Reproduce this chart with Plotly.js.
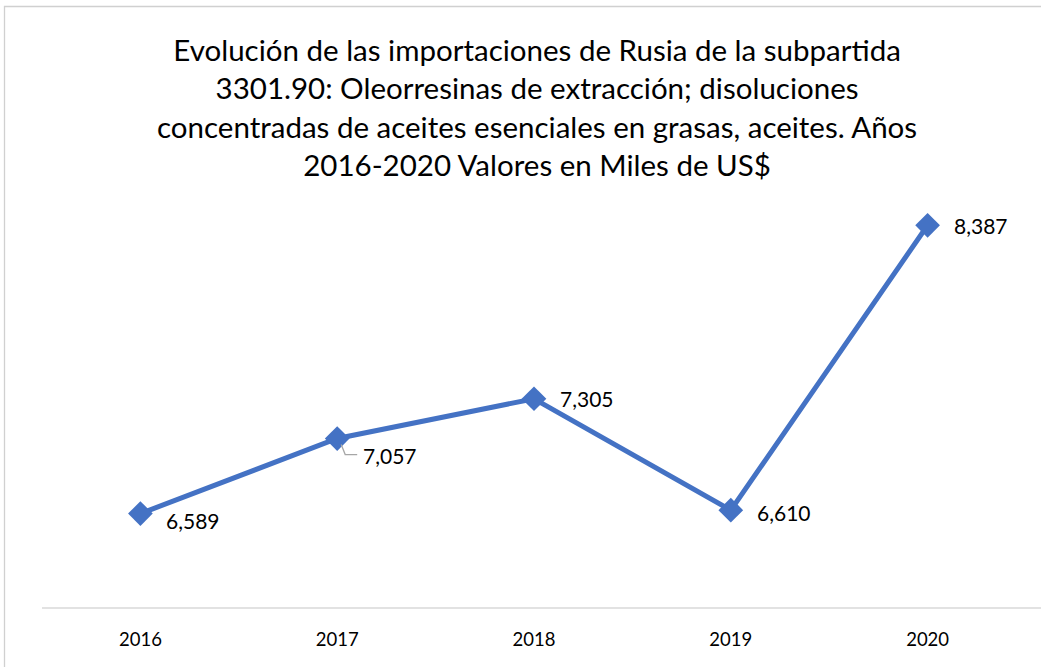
<!DOCTYPE html>
<html>
<head>
<meta charset="utf-8">
<script src="https://cdn.plot.ly/plotly-3.0.1.min.js"></script>
<style>html,body{margin:0;padding:0;background:#fff;}#chart{width:1041px;height:667px;}</style>
</head>
<body>
<div id="chart"></div>
<script>
const years = ["2016", "2017", "2018", "2019", "2020"];
const values = [6589, 7057, 7305, 6610, 8387];
const labels = ["6,589", "7,057", "7,305", "6,610", "8,387"];
const labelShiftY = [-7, -17, 0, -2, 0];
const titleText = "Evolución de las importaciones de Rusia de la subpartida<br>3301.90: Oleorresinas de extracción; disoluciones<br>concentradas de aceites esenciales en grasas, aceites. Años<br>2016-2020 Valores en Miles de US$";

const FONT = "Lato, 'Open Sans', sans-serif";
const W = 1041, H = 667, ML = 42, MR = 15, MT = 127, MB = 59;
const pw = W - ML - MR, ph = H - MT - MB;

const trace = {
  x: years.map((_, i) => i),
  y: values,
  mode: "lines+markers",
  line: {color: "#4472C4", width: 5},
  marker: {symbol: "diamond", size: 19, color: "#4472C4"},
  hoverinfo: "skip"
};

const annotations = values.map((v, i) => ({
  x: i, y: v, xref: "x", yref: "y",
  text: labels[i], showarrow: false,
  xanchor: "left", yanchor: "middle",
  xshift: 24, yshift: labelShiftY[i],
  font: {family: FONT, size: 21, color: "#000"}
}));

annotations.push({
  xref: "paper", yref: "paper",
  x: (537 - ML) / pw, y: (H - MB - 30) / ph,
  xanchor: "center", yanchor: "top",
  text: titleText, showarrow: false, align: "center",
  font: {family: FONT, size: 29.5, color: "#000"}
});

const shapes = [
  // chart border
  {type: "rect", xref: "paper", yref: "paper",
   x0: (4.5 - ML) / pw, x1: 1.2, y0: -0.3, y1: (H - MB - 6.5) / ph,
   line: {color: "#d0d0d0", width: 1.3}, fillcolor: "rgba(0,0,0,0)", layer: "below"},
  // x axis line
  {type: "line", xref: "paper", yref: "paper", x0: 0, x1: 1.1, y0: 0, y1: 0,
   line: {color: "#d9d9d9", width: 1.5}},
  // leader line for 2017 label
  {type: "path", xref: "x", yref: "y", xsizemode: "pixel", ysizemode: "pixel",
   xanchor: 1, yanchor: values[1],
   path: "M 4 -6 L 8 -16 L 20 -16",
   line: {color: "#a6a6a6", width: 1.3}}
];

const layout = {
  width: W, height: H,
  margin: {l: ML, r: MR, t: MT, b: MB},
  paper_bgcolor: "#fff", plot_bgcolor: "#fff",
  showlegend: false,
  xaxis: {range: [-0.5, 4.5], tickvals: years.map((_, i) => i), ticktext: years,
          showgrid: false, zeroline: false, showline: false, ticks: "",
          tickfont: {family: FONT, size: 18.5, color: "#000"}, ticklabelstandoff: 18, fixedrange: true},
  yaxis: {range: [6000, 9000], visible: false, showgrid: false, zeroline: false, fixedrange: true},
  annotations: annotations,
  shapes: shapes
};

Plotly.newPlot("chart", [trace], layout, {displayModeBar: false, staticPlot: true});
</script>
</body>
</html>
